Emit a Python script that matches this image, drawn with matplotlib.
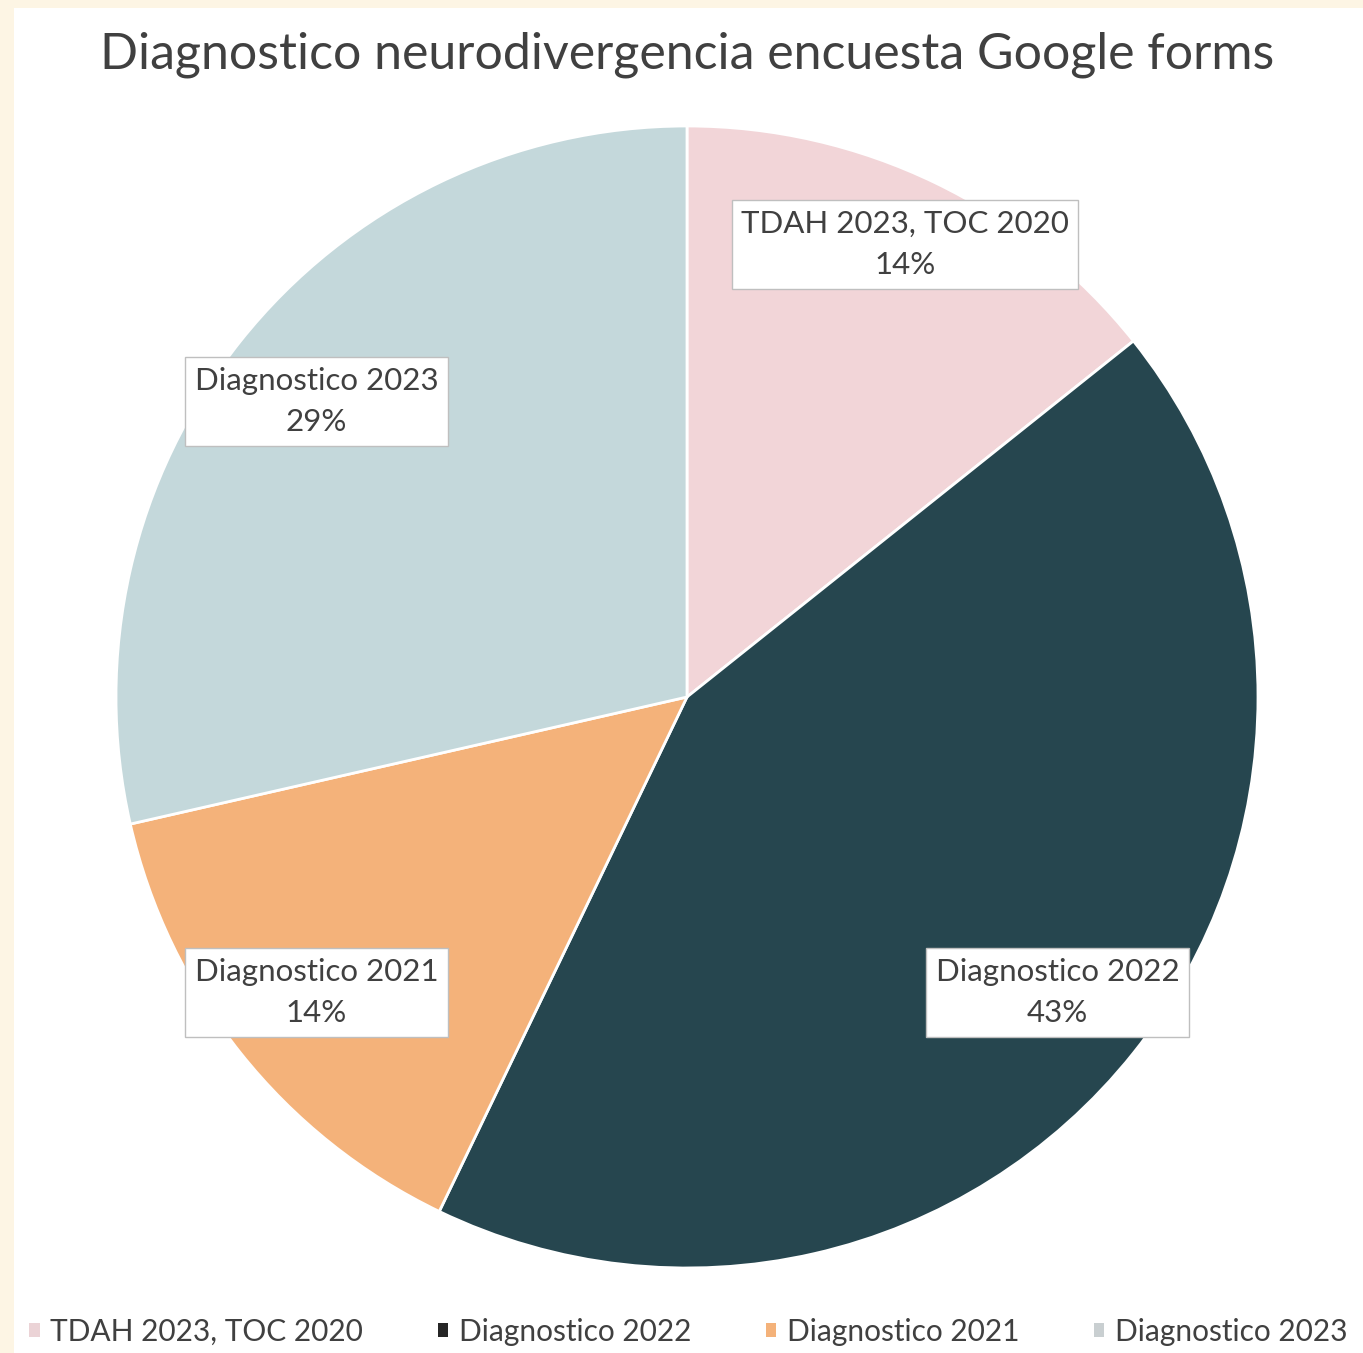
import matplotlib.pyplot as plt
import numpy as np
from matplotlib.patches import Rectangle

categories = ["TDAH 2023, TOC 2020", "Diagnostico 2022", "Diagnostico 2021", "Diagnostico 2023"]
counts = [1, 3, 1, 2]
colors = ["#F2D5D8", "#26464F", "#F4B27A", "#C4D8DB"]
legend_colors = ["#EBD3D6", "#262626", "#F4B27A", "#C9CFD1"]
title = "Diagnostico neurodivergencia encuesta Google forms"

plt.rcParams["font.family"] = ["Lato", "DejaVu Sans"]
text_color = "#404040"

fig = plt.figure(figsize=(13.63, 13.53), dpi=100)
fig.patch.set_facecolor("#FDF5E4")
# white chart area inside the cream border
fig.patches.append(Rectangle((14 / 1363, 0), 1 - 14 / 1363, 1 - 8 / 1353,
                             transform=fig.transFigure, facecolor="white",
                             edgecolor="none", zorder=-5))

ax = fig.add_axes([116 / 1363, 85 / 1353, 1142 / 1363, 1142 / 1353])

wedges, _ = ax.pie(counts, colors=colors, startangle=90, counterclock=False,
                   radius=1, wedgeprops=dict(edgecolor="white", linewidth=2))
# pie() resets the limits, so set them afterwards
ax.set_xlim(-1, 1)
ax.set_ylim(-1, 1)
ax.set_aspect("equal")
ax.axis("off")

total = sum(counts)
label_r = [0.88, 0.83, 0.83, 0.83]
for w, name, c, r in zip(wedges, categories, counts, label_r):
    mid = np.deg2rad((w.theta1 + w.theta2) / 2)
    pct = round(100 * c / total)
    ax.text(r * np.cos(mid), r * np.sin(mid), f"{name}\n{pct}%",
            ha="center", va="center", fontsize=22.5, color=text_color,
            linespacing=1.6,
            bbox=dict(boxstyle="square,pad=0.3", facecolor="white",
                      edgecolor="#BFBFBF", linewidth=1))

fig.text(687 / 1363, 1 - 55 / 1353, title, ha="center", va="center",
         fontsize=36, color=text_color)

handles = [Rectangle((0, 0), 1, 1, facecolor=lc, edgecolor="none") for lc in legend_colors]
leg = fig.legend(handles, categories, loc="center", bbox_to_anchor=(0.505, 1 - 1332 / 1353),
                 ncol=4, frameon=False, fontsize=21.5, handlelength=0.35, handleheight=0.35,
                 handletextpad=0.35, columnspacing=2.5)
for t in leg.get_texts():
    t.set_color(text_color)

plt.savefig("out.png", dpi=100)
